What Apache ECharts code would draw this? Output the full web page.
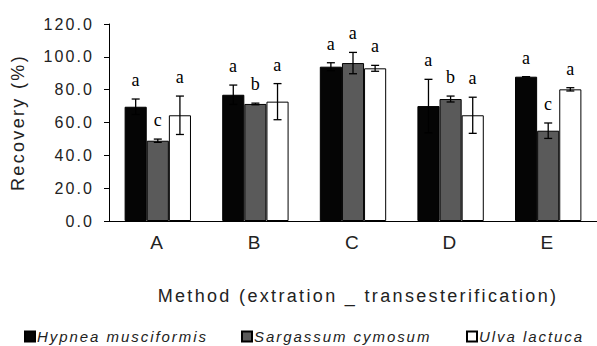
<!DOCTYPE html>
<html>
<head>
<meta charset="utf-8">
<script src="https://cdn.jsdelivr.net/npm/echarts@6/dist/echarts.min.js"></script>
<style>
html,body{margin:0;padding:0;background:#fff;}
#chart{width:597px;height:346px;}
#chart text{letter-spacing:0.13em;}
</style>
</head>
<body>
<div id="chart"></div>
<script>
const categories = ['A', 'B', 'C', 'D', 'E'];
const seriesNames = ['Hypnea musciformis', 'Sargassum cymosum', 'Ulva lactuca'];
const hypnea = [69.6, 76.9, 94.0, 70.0, 87.9];
const hypneaErr = [4.7, 5.9, 2.4, 16.3, 0];
const hypneaLetters = ['a', 'a', 'a', 'a', 'a'];
const sargassum = [48.9, 71.3, 96.2, 74.3, 55.0];
const sargassumErr = [1.0, 0.5, 6.5, 1.8, 4.7];
const sargassumLetters = ['c', 'b', 'a', 'b', 'c'];
const ulva = [64.4, 72.7, 93.0, 64.4, 80.2];
const ulvaErr = [11.7, 11.0, 1.8, 11.0, 1.0];
const ulvaLetters = ['a', 'a', 'a', 'a', 'a'];
const yTicks = [0, 20, 40, 60, 80, 100, 120];

const values = [hypnea, sargassum, ulva];
const errs = [hypneaErr, sargassumErr, ulvaErr];
const letters = [hypneaLetters, sargassumLetters, ulvaLetters];
const fills = ['#050505', '#5a5a5a', '#ffffff'];
const CAT_GAP = 0.32;
const SANS = '"Liberation Sans", Arial, sans-serif';
const SERIF = '"Liberation Serif", "Times New Roman", serif';
const TXT = '#222';

const chart = echarts.init(document.getElementById('chart'), null, {renderer: 'svg'});

const barSeries = values.map((vals, i) => ({
  type: 'bar',
  name: seriesNames[i],
  data: vals,
  barGap: '0%',
  barCategoryGap: (CAT_GAP * 100) + '%',
  itemStyle: {color: fills[i], borderColor: '#000', borderWidth: 1},
  emphasis: {disabled: true},
  z: 2
}));

const errSeries = values.map((vals, i) => ({
  type: 'custom',
  data: vals.map((v, j) => [j, v, errs[i][j]]),
  z: 5,
  silent: true,
  renderItem: function (params, api) {
    const x = api.value(0), v = api.value(1), e = api.value(2);
    const band = api.size([1, 0])[0];
    const bw = band * (1 - CAT_GAP) / 3;
    const cx = api.coord([x, v])[0] + (i - 1) * bw;
    const top = api.coord([x, v + e])[1];
    const bot = api.coord([x, v - e])[1];
    const cap = 4;
    const st = {stroke: '#000', lineWidth: 1.3};
    return {
      type: 'group',
      children: [
        {type: 'line', shape: {x1: cx, y1: top, x2: cx, y2: bot}, style: st},
        {type: 'line', shape: {x1: cx - cap, y1: top, x2: cx + cap, y2: top}, style: st},
        {type: 'line', shape: {x1: cx - cap, y1: bot, x2: cx + cap, y2: bot}, style: st},
        {type: 'text', x: cx + 1, y: top - 19, style: {
          text: letters[i][params.dataIndex], fill: '#000',
          font: '18px ' + SERIF, align: 'center', verticalAlign: 'middle'
        }}
      ]
    };
  }
}));

const legendLefts = [24, 241, 466];
const legends = seriesNames.map((n, i) => ({
  data: [n],
  left: legendLefts[i],
  top: 329,
  padding: 0,
  icon: 'rect',
  itemWidth: 10,
  itemHeight: 10,
  selectedMode: false,
  textStyle: {color: TXT, fontSize: 15, fontStyle: 'italic', fontFamily: SANS, padding: [0, 0, 0, -3]}
}));

chart.setOption({
  animation: false,
  backgroundColor: '#fff',
  grid: {left: 109, right: 0, top: 24, bottom: 125, containLabel: false},
  xAxis: {
    type: 'category',
    data: categories,
    axisLine: {lineStyle: {color: '#000', width: 1}},
    axisTick: {show: false},
    axisLabel: {color: TXT, fontSize: 19, fontFamily: SANS, margin: 12},
    name: 'Method (extration _ transesterification)',
    nameLocation: 'middle',
    nameGap: 66,
    nameTextStyle: {color: TXT, fontSize: 18, fontFamily: SANS, padding: [0, 0, 0, 10]}
  },
  yAxis: {
    type: 'value',
    min: 0, max: 120, interval: 20,
    axisLine: {show: true, lineStyle: {color: '#000', width: 1}},
    axisTick: {show: true, length: 5, lineStyle: {color: '#000'}},
    splitLine: {show: false},
    axisLabel: {color: TXT, fontSize: 16, fontFamily: SANS, margin: 15,
      formatter: v => yTicks.indexOf(v) >= 0 ? v.toFixed(1) : ''},
    name: 'Recovery (%)',
    nameLocation: 'middle',
    nameGap: 82,
    nameTextStyle: {color: TXT, fontSize: 18, fontFamily: SANS}
  },
  legend: legends,
  series: [...barSeries, ...errSeries]
});
</script>
</body>
</html>
